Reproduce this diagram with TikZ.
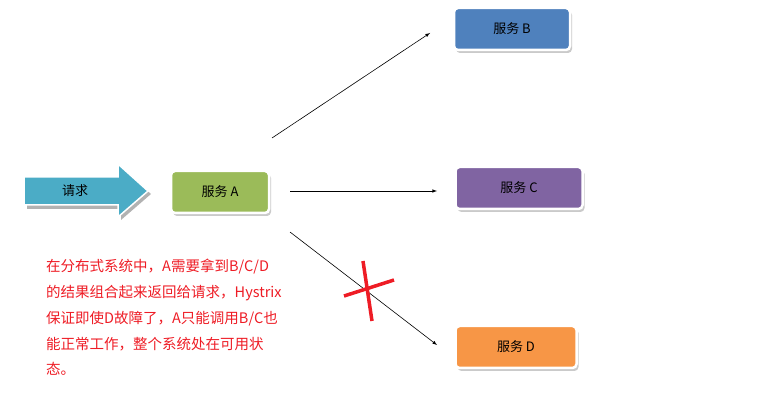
\documentclass[tikz,border=0pt]{standalone}
\usepackage{fontspec}
\setmainfont{Liberation Sans}
\newfontfamily\cjk{Noto Sans CJK SC}
\usetikzlibrary{shadows}
\definecolor{svcB}{HTML}{4F81BD}
\definecolor{svcC}{HTML}{8064A2}
\definecolor{svcD}{HTML}{F79646}
\definecolor{svcA}{HTML}{9BBB59}
\definecolor{reqblue}{HTML}{4BACC6}
\definecolor{warnred}{HTML}{EE1C25}
\tikzset{
  svc/.style={rectangle, rounded corners=4pt, draw=white, line width=2.5pt,
    minimum height=42pt, font=\cjk\fontsize{13}{15}\selectfont,
    drop shadow={shadow xshift=2pt, shadow yshift=-3pt, fill=black!35, opacity=.6}},
  call/.style={->, >=latex, line width=0.6pt}
}
\begin{document}
\begin{tikzpicture}[x=1pt,y=-1pt]
  \useasboundingbox (0,0) rectangle (769,403);
  % request arrow
  \draw[fill=black!30, draw=none] (27,181) -- (121,181) -- (121,168) -- (151,194) -- (121,220) -- (121,209) -- (27,209) -- cycle;
  \draw[fill=reqblue, draw=white, line width=1.5pt] (24,177) -- (118,177) -- (118,164) -- (148,191) -- (118,217) -- (118,205) -- (24,205) -- cycle;
  \node[font=\cjk\fontsize{13}{15}\selectfont] (req) at (75,191) {请求};
  % services
  \node[svc, fill=svcA, minimum width=98pt] (a) at (220,192) {服务 A};
  \node[svc, fill=svcB, minimum width=116pt] (b) at (512,29) {服务 B};
  \node[svc, fill=svcC, minimum width=127pt] (c) at (519,188) {服务 C};
  \node[svc, fill=svcD, minimum width=121pt] (d) at (516,347) {服务 D};
  % calls
  \coordinate (ab) at (272,138);
  \coordinate (ac) at (290,191);
  \coordinate (ad) at (290,232);
  \coordinate (bin) at (430,33);
  \coordinate (cin) at (437,191);
  \coordinate (din) at (437,345);
  \draw[call] (ab) -- (bin);
  \draw[call] (ac) -- (cin);
  \draw[call] (ad) -- (din);
  % failure mark
  \draw[warnred, line width=3.5pt] (363,261) -- (372,321);
  \draw[warnred, line width=3.5pt] (344,296) -- (394,280);
  % note
  \node[anchor=north west, align=left, text=warnred, inner sep=0pt, font=\cjk\fontsize{14.5}{25.8}\selectfont] (note) at (46,259)
    {在分布式系统中，A需要拿到B/C/D\\的结果组合起来返回给请求，Hystrix\\保证即使D故障了，A只能调用B/C也\\能正常工作，整个系统处在可用状\\态。};
\end{tikzpicture}
\end{document}
